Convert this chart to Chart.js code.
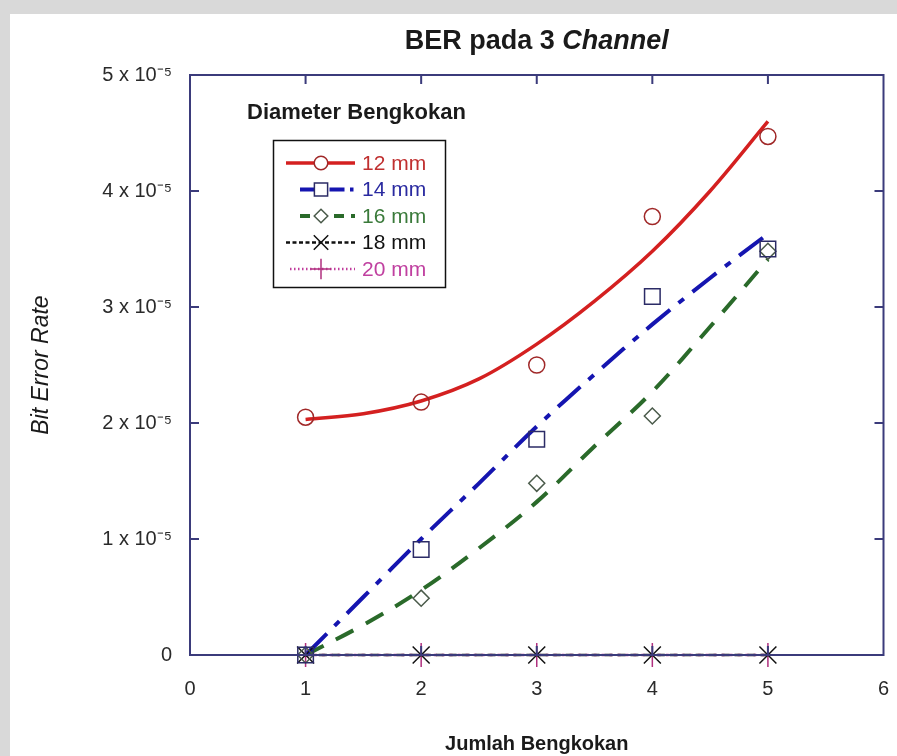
<!DOCTYPE html>
<html>
<head>
<meta charset="utf-8">
<script src="https://cdn.jsdelivr.net/npm/chart.js@4.4.1/dist/chart.umd.min.js"></script>
<style>
  html, body { margin: 0; padding: 0; background: #d9d9d9; }
  #paper { position: absolute; left: 10px; top: 14px; right: 0; bottom: 0; width: 887px; height: 742px; background: #fff; }
  #berChart { position: absolute; left: 0; top: 0; }
</style>
</head>
<body>
<div id="paper"></div>
<canvas id="berChart" width="897" height="756"></canvas>
<script>
// Jumlah bengkokan (x) and measured BER, values in units of 10^-5
const jumlah = [1, 2, 3, 4, 5];
const ber12 = [2.05, 2.18, 2.50, 3.78, 4.47];
const ber14 = [0, 0.91, 1.86, 3.09, 3.50];
const ber16 = [0, 0.49, 1.48, 2.06, 3.48];
const ber18 = [0, 0, 0, 0, 0];
const ber20 = [0, 0, 0, 0, 0];

// fitted curves
const fitX = [1, 1.5, 2, 2.5, 3, 3.5, 4, 4.5, 5];
const fit12 = [2.03, 2.08, 2.19, 2.38, 2.68, 3.05, 3.48, 4.00, 4.60];
const fit14 = [0, 0.50, 1.00, 1.48, 1.97, 2.42, 2.85, 3.25, 3.63];
const fit16 = [0, 0.26, 0.56, 0.92, 1.32, 1.80, 2.27, 2.83, 3.41];

const xTicks = [0, 1, 2, 3, 4, 5, 6];
const yTicks = [0, 1, 2, 3, 4, 5];

const seriesNames = ["12 mm", "14 mm", "16 mm", "18 mm", "20 mm"];

const FONT = '"Liberation Sans", Arial, sans-serif';
const AXIS = "#3b3b7b";

const series = [
    { vals: ber12, fit: fit12, line: "#d42020", text: "#c03030", mark: "#a02828", style: "circle", r: 8, dash: [], lw: 3.5, legX: 286 },
    { vals: ber14, fit: fit14, line: "#1515b0", text: "#2a2aa0", mark: "#2b2b66", style: "rect", r: 11, dash: [30, 11, 7, 11], lw: 4, legX: 300 },
    { vals: ber16, fit: fit16, line: "#2a6a2a", text: "#3a7a3a", mark: "#4a5a4a", style: "rectRot", r: 8, dash: [20, 14], lw: 4, legX: 300 },
    { vals: ber18, fit: null, line: "#111111", text: "#111111", mark: "#111111", style: "crossRot", r: 12, dash: [8, 5], lw: 2.5, legX: 286 },
    { vals: ber20, fit: null, line: "#c03c9c", text: "#c040a0", mark: "#b0307f", style: "cross", r: 12, dash: [3, 5], lw: 2.5, legX: 290 }
];

const toPts = (xs, ys) => xs.map((x, i) => ({ x: x, y: ys[i] }));

const datasets = [];
// markers first so they are drawn on top
series.forEach((s, i) => {
    datasets.push({
        label: seriesNames[i],
        data: toPts(jumlah, s.vals),
        showLine: false,
        pointStyle: s.style,
        pointRadius: s.r,
        pointBorderWidth: 1.5,
        pointBorderColor: s.mark,
        pointBackgroundColor: "rgba(255,255,255,0)",
        clip: false
    });
});
series.forEach((s, i) => {
    const ys = s.fit || s.vals;
    const xs = s.fit ? fitX : jumlah;
    datasets.push({
        label: seriesNames[i] + " fit",
        data: toPts(xs, ys),
        showLine: true,
        pointRadius: 0,
        borderColor: s.line,
        borderWidth: s.lw,
        borderDash: s.dash,
        tension: 0.35,
        clip: false
    });
});

const framePlugin = {
    id: "frame",
    afterDraw(chart) {
        const c = chart.ctx;
        const a = chart.chartArea;
        const sx = chart.scales.x, sy = chart.scales.y;
        c.save();
        c.strokeStyle = AXIS;
        c.lineWidth = 2;
        c.strokeRect(a.left, a.top, a.right - a.left, a.bottom - a.top);
        c.beginPath();
        xTicks.slice(1, -1).forEach(v => {
            const px = sx.getPixelForValue(v);
            c.moveTo(px, a.bottom); c.lineTo(px, a.bottom - 9);
            c.moveTo(px, a.top); c.lineTo(px, a.top + 9);
        });
        yTicks.slice(1, -1).forEach(v => {
            const py = sy.getPixelForValue(v);
            c.moveTo(a.left, py); c.lineTo(a.left + 9, py);
            c.moveTo(a.right, py); c.lineTo(a.right - 9, py);
        });
        c.stroke();

        // title with italic word
        const cx = (a.left + a.right) / 2;
        const t1 = "BER pada 3 ", t2 = "Channel";
        c.fillStyle = "#1a1a1a";
        c.textBaseline = "middle";
        c.textAlign = "left";
        c.font = "bold 27px " + FONT;
        const w1 = c.measureText(t1).width;
        c.font = "italic bold 27px " + FONT;
        const w2 = c.measureText(t2).width;
        let x0 = cx - (w1 + w2) / 2;
        c.font = "bold 27px " + FONT;
        c.fillText(t1, x0, 42);
        c.font = "italic bold 27px " + FONT;
        c.fillText(t2, x0 + w1, 42);
        c.restore();
    }
};

const legendPlugin = {
    id: "legendBox",
    afterDraw(chart) {
        const c = chart.ctx;
        c.save();
        c.fillStyle = "#1a1a1a";
        c.textBaseline = "middle";
        c.textAlign = "left";
        c.font = "bold 22px " + FONT;
        c.fillText("Diameter Bengkokan", 247, 113);
        c.strokeStyle = "#111";
        c.lineWidth = 1.5;
        c.strokeRect(273.5, 140.5, 172, 147);

        series.forEach((s, i) => {
            const y = 163 + i * 26.5;
            c.strokeStyle = s.line;
            c.lineWidth = s.lw;
            c.setLineDash(s.dash.length ? s.dash.map(d => d * 0.5) : []);
            c.beginPath();
            c.moveTo(s.legX, y); c.lineTo(355, y);
            c.stroke();
            c.setLineDash([]);
            c.strokeStyle = s.mark;
            c.fillStyle = "#fff";
            c.lineWidth = 1.5;
            Chart.helpers.drawPoint(c, { pointStyle: s.style, radius: s.r * 0.85, borderWidth: 1.5, rotation: 0 }, 321, y);
            c.fillStyle = s.text;
            c.font = "21px " + FONT;
            c.fillText(seriesNames[i], 362, y + 1);
        });
        c.restore();
    }
};

new Chart(document.getElementById("berChart").getContext("2d"), {
    type: "scatter",
    data: { datasets: datasets },
    options: {
        responsive: false,
        animation: false,
        layout: { padding: { top: 75, right: 8, left: 0, bottom: 0 } },
        plugins: {
            legend: { display: false },
            tooltip: { enabled: false }
        },
        scales: {
            x: {
                type: "linear",
                min: 0,
                max: 6,
                grid: { display: false, drawTicks: false },
                border: { display: false },
                ticks: {
                    stepSize: 1,
                    padding: 22,
                    color: "#2a2a2a",
                    font: { family: FONT, size: 20 },
                    callback: v => String(v)
                },
                title: {
                    display: true,
                    text: "Jumlah Bengkokan",
                    color: "#1a1a1a",
                    font: { family: FONT, size: 20, weight: "bold" },
                    padding: { top: 4, bottom: 0 }
                },
                afterFit: s => { s.height = 101; s.paddingRight = 0; s.paddingLeft = 0; }
            },
            y: {
                min: 0,
                max: 5,
                grid: { display: false, drawTicks: false },
                border: { display: false },
                ticks: {
                    stepSize: 1,
                    padding: 18,
                    color: "#2a2a2a",
                    font: { family: FONT, size: 20 },
                    callback: v => v === 0 ? "0" : Math.round(v) + " x 10\u207B\u2075"
                },
                title: {
                    display: true,
                    text: "Bit Error Rate",
                    color: "#1a1a1a",
                    font: { family: FONT, size: 23, style: "italic" },
                    padding: { top: 28, bottom: 0 }
                },
                afterFit: s => { s.width = 190; s.paddingTop = 0; s.paddingBottom = 0; }
            }
        }
    },
    plugins: [framePlugin, legendPlugin]
});
</script>
</body>
</html>
